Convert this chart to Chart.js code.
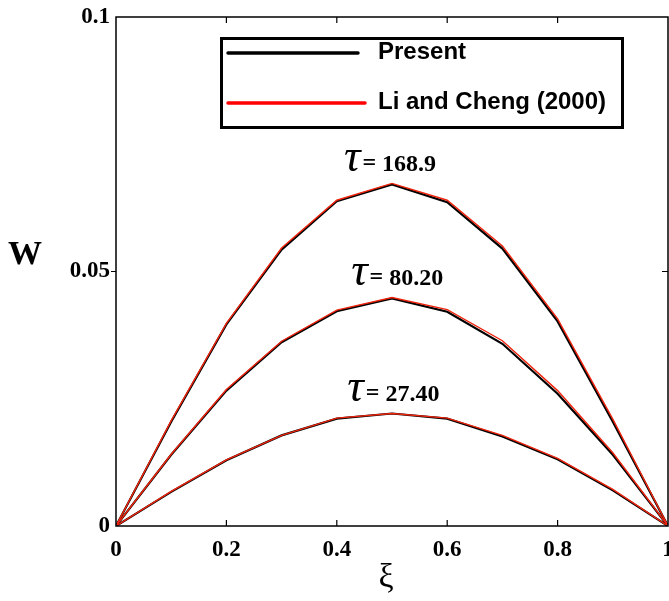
<!DOCTYPE html>
<html lang="en">
<head>
    <meta charset="UTF-8">
    <title>Deflection profiles W(xi)</title>
    <script src="https://cdn.jsdelivr.net/npm/chart.js"></script>
    <style>
        html, body {
            margin: 0;
            padding: 0;
            background: #ffffff;
        }
        #wrap {
            width: 669px;
            height: 601px;
            position: relative;
        }
    </style>
</head>
<body>
    <div id="wrap">
        <canvas id="wChart" width="669" height="601"></canvas>
    </div>
    <script>
        // Position along the span
        const xi = [0, 0.1, 0.2, 0.3, 0.4, 0.5, 0.6, 0.7, 0.8, 0.9, 1];

        // Present results, one curve per time value
        const present168 = [0, 0.0205, 0.0396, 0.0543, 0.0638, 0.0671, 0.0636, 0.0545, 0.0402, 0.0205, 0];
        const present80 = [0, 0.0140, 0.0266, 0.0361, 0.0422, 0.0447, 0.0421, 0.0358, 0.0260, 0.0140, 0];
        const present27 = [0, 0.0067, 0.0129, 0.0178, 0.0211, 0.0221, 0.0211, 0.0176, 0.0131, 0.0070, 0];

        // Li and Cheng (2000)
        const li168 = [0, 0.0207, 0.0398, 0.0546, 0.0640, 0.0673, 0.0640, 0.0550, 0.0407, 0.0210, 0];
        const li80 = [0, 0.0141, 0.0268, 0.0363, 0.0424, 0.0449, 0.0425, 0.0364, 0.0266, 0.0144, 0];
        const li27 = [0, 0.0068, 0.0130, 0.0178, 0.0212, 0.0221, 0.0212, 0.0178, 0.0133, 0.0072, 0];

        const tauValues = ['168.9', '80.20', '27.40'];
        const xTicks = [0, 0.2, 0.4, 0.6, 0.8, 1];
        const yTicks = [0, 0.05, 0.1];

        const BLACK = '#000000';
        const RED = '#f0250e';

        function pts(ys) {
            return xi.map((x, i) => ({ x: x, y: ys[i] }));
        }

        // lower order is drawn on top, so the red reference curves sit over the black ones
        function ds(label, ys, color, width, order) {
            return {
                label: label,
                data: pts(ys),
                borderColor: color,
                borderWidth: width,
                pointRadius: 0,
                tension: 0,
                fill: false,
                order: order
            };
        }

        // tau labels sit just above the peak of each curve
        const tauLabelX = [0.413, 0.426, 0.419];
        const peaks = [present168, present80, present27];

        const decorations = {
            id: 'decorations',
            afterDatasetsDraw(chart) {
                const ctx = chart.ctx;
                const xs = chart.scales.x;
                const ys = chart.scales.y;
                const a = chart.chartArea;

                ctx.save();
                // frame
                ctx.strokeStyle = BLACK;
                ctx.lineWidth = 1.5;
                ctx.strokeRect(a.left, a.top, a.right - a.left, a.bottom - a.top);

                // ticks: inward on x, outward on left y, inward on right y
                ctx.lineWidth = 1.2;
                ctx.beginPath();
                xTicks.slice(1, -1).forEach(v => {
                    const px = xs.getPixelForValue(v);
                    ctx.moveTo(px, a.bottom);
                    ctx.lineTo(px, a.bottom - 6);
                    ctx.moveTo(px, a.top);
                    ctx.lineTo(px, a.top + 6);
                });
                yTicks.slice(1, -1).forEach(v => {
                    const py = ys.getPixelForValue(v);
                    ctx.moveTo(a.left, py);
                    ctx.lineTo(a.left - 5, py);
                    ctx.moveTo(a.right, py);
                    ctx.lineTo(a.right - 6, py);
                });
                ctx.stroke();

                // axis titles
                ctx.fillStyle = BLACK;
                ctx.textAlign = 'center';
                ctx.textBaseline = 'middle';
                ctx.font = 'bold 34px "Liberation Serif"';
                ctx.fillText('W', 25, 255);
                ctx.font = '34px "Liberation Serif"';
                ctx.fillText('\u03BE', 386, 578);

                // tau annotations
                ctx.textAlign = 'left';
                ctx.textBaseline = 'alphabetic';
                tauValues.forEach((t, i) => {
                    const peak = Math.max(...peaks[i]);
                    const base = ys.getPixelForValue(peak) - 13;
                    let x = xs.getPixelForValue(tauLabelX[i]);
                    ctx.font = 'italic 46px "Liberation Serif"';
                    ctx.fillText('\u03C4', x, base);
                    x += ctx.measureText('\u03C4').width + 2;
                    ctx.font = 'bold 24px "Liberation Serif"';
                    ctx.fillText('=', x, base - 1);
                    x += ctx.measureText('=').width + 6;
                    ctx.fillText(t, x, base);
                });

                // legend box
                ctx.lineWidth = 3;
                ctx.strokeRect(221.5, 38.5, 401, 89);
                const entries = [
                    { label: chart.data.datasets[0].label, color: BLACK, y: 53, x2: 358 },
                    { label: chart.data.datasets[3].label, color: '#ff0000', y: 103, x2: 365 }
                ];
                ctx.font = 'bold 24px "Liberation Sans"';
                entries.forEach(e => {
                    ctx.strokeStyle = e.color;
                    ctx.lineWidth = 3.5;
                    ctx.lineCap = 'round';
                    ctx.beginPath();
                    ctx.moveTo(228, e.y);
                    ctx.lineTo(e.x2, e.y);
                    ctx.stroke();
                    ctx.fillText(e.label, 378, e.y + 6);
                });
                ctx.restore();
            }
        };

        const tickFont = { family: '"Liberation Serif"', size: 23, weight: 'bold' };

        new Chart(document.getElementById('wChart'), {
            type: 'line',
            data: {
                datasets: [
                    ds('Present', present168, BLACK, 2.2, 1),
                    ds('Present', present80, BLACK, 2.2, 1),
                    ds('Present', present27, BLACK, 2.2, 1),
                    ds('Li and Cheng (2000)', li168, RED, 1.4, 0),
                    ds('Li and Cheng (2000)', li80, RED, 1.4, 0),
                    ds('Li and Cheng (2000)', li27, RED, 1.4, 0)
                ]
            },
            options: {
                responsive: false,
                animation: false,
                layout: { padding: { top: 17, right: 1, bottom: 0, left: 0 } },
                plugins: {
                    legend: { display: false },
                    tooltip: { enabled: false }
                },
                scales: {
                    x: {
                        type: 'linear',
                        min: 0,
                        max: 1,
                        afterBuildTicks: s => { s.ticks = xTicks.map(v => ({ value: v })); },
                        ticks: {
                            color: BLACK,
                            font: tickFont,
                            padding: 10,
                            maxRotation: 0,
                            callback: v => String(v)
                        },
                        grid: { display: false, drawTicks: false },
                        border: { display: false },
                        afterFit: s => {
                            s.height = 75;
                            s.paddingLeft = 0;
                            s.paddingRight = 0;
                        }
                    },
                    y: {
                        min: 0,
                        max: 0.1,
                        afterBuildTicks: s => { s.ticks = yTicks.map(v => ({ value: v })); },
                        ticks: {
                            color: BLACK,
                            font: tickFont,
                            padding: 6,
                            callback: v => String(v)
                        },
                        grid: { display: false, drawTicks: false },
                        border: { display: false },
                        afterFit: s => {
                            s.width = 116;
                            s.paddingTop = 0;
                            s.paddingBottom = 0;
                        }
                    }
                }
            },
            plugins: [decorations]
        });
    </script>
</body>
</html>
